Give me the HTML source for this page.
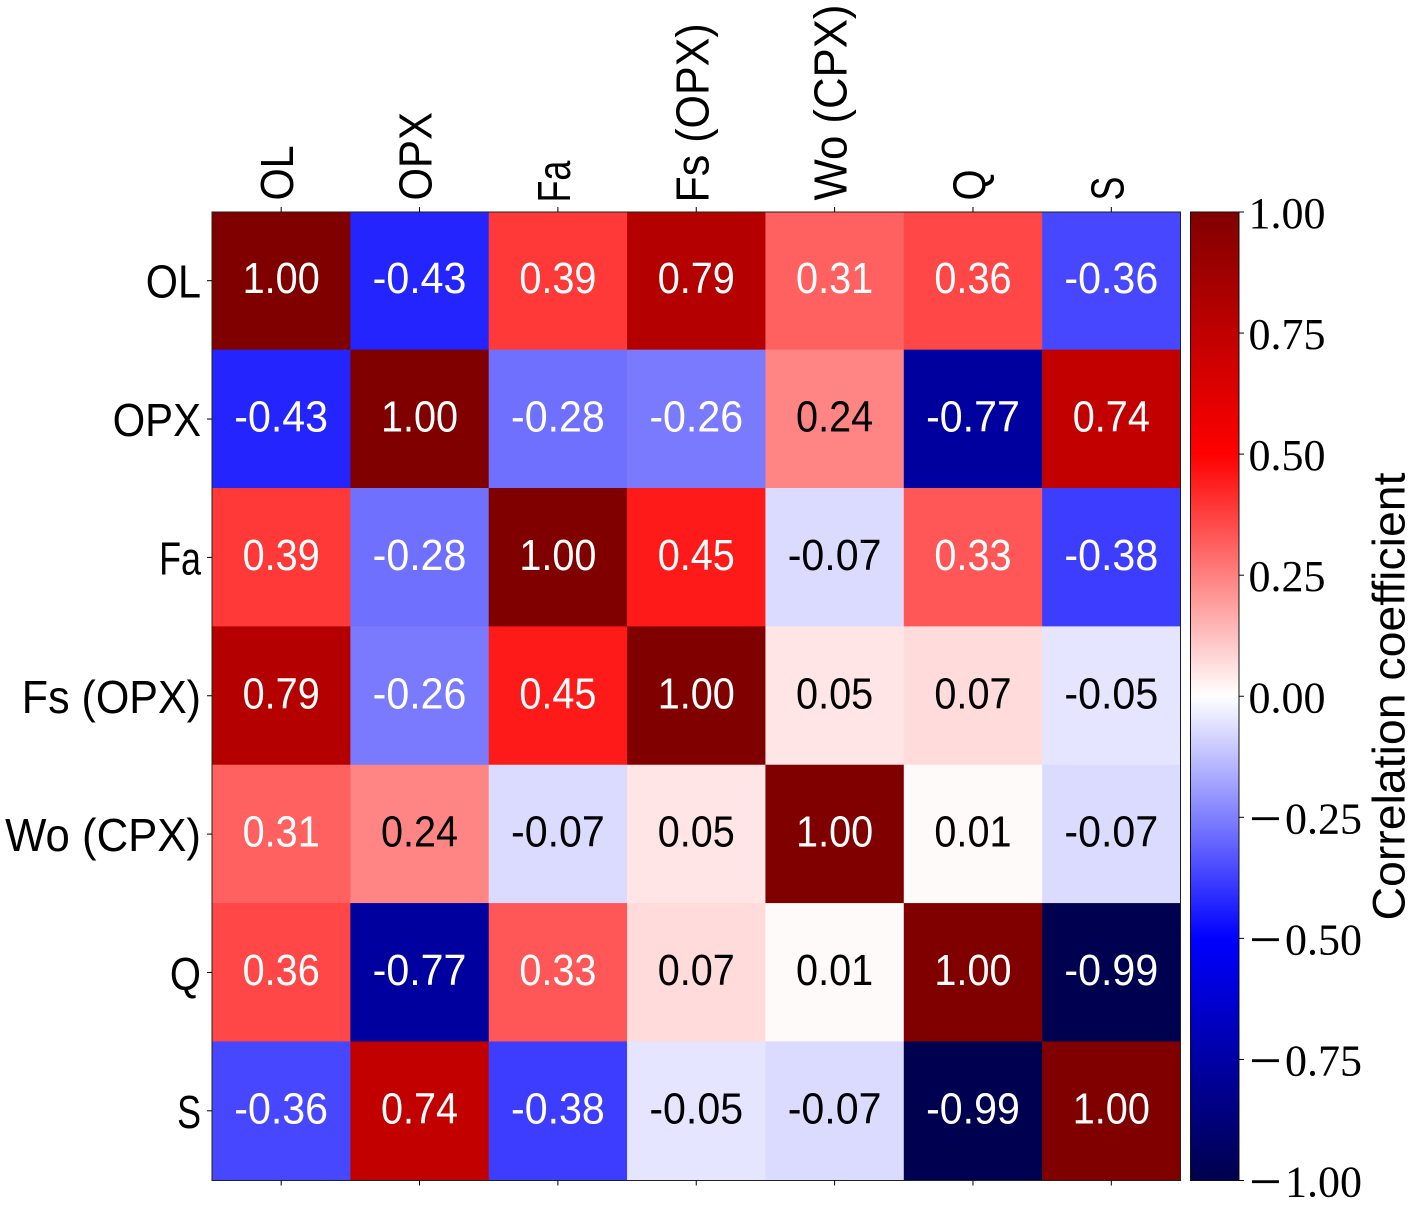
<!DOCTYPE html>
<html lang="en">
<head>
<meta charset="utf-8">
<title>Correlation matrix</title>
<style>
html,body{margin:0;padding:0;background:#fff;}
svg{display:block;}
text{font-family:"Liberation Sans",sans-serif;fill:#000;}
.serif{font-family:"Liberation Serif",serif;}
</style>
</head>
<body>
<svg id="chart" xmlns="http://www.w3.org/2000/svg" width="1420" height="1211" viewBox="0 0 1420 1211">
  <defs>
    <linearGradient id="cbar-gradient" x1="0" y1="1" x2="0" y2="0"></linearGradient>
  </defs>
  <rect width="1420" height="1211" fill="#fff"></rect>
  <g id="cells"></g>
  <g id="cell-values"></g>
  <rect id="frame" fill="none" stroke="#222" stroke-width="1"></rect>
  <g id="ticks"></g>
  <g id="colorbar"></g>
  <text id="cbar-title" text-anchor="middle" font-size="45" textLength="448" lengthAdjust="spacingAndGlyphs">Correlation coefficient</text>
</svg>
<script>
const categories = ["OL", "OPX", "Fa", "Fs (OPX)", "Wo (CPX)", "Q", "S"];
const row0 = [1.00, -0.43, 0.39, 0.79, 0.31, 0.36, -0.36];
const row1 = [-0.43, 1.00, -0.28, -0.26, 0.24, -0.77, 0.74];
const row2 = [0.39, -0.28, 1.00, 0.45, -0.07, 0.33, -0.38];
const row3 = [0.79, -0.26, 0.45, 1.00, 0.05, 0.07, -0.05];
const row4 = [0.31, 0.24, -0.07, 0.05, 1.00, 0.01, -0.07];
const row5 = [0.36, -0.77, 0.33, 0.07, 0.01, 1.00, -0.99];
const row6 = [-0.36, 0.74, -0.38, -0.05, -0.07, -0.99, 1.00];
const matrix = [row0, row1, row2, row3, row4, row5, row6];
const colorbarTicks = [-1.00, -0.75, -0.50, -0.25, 0.00, 0.25, 0.50, 0.75, 1.00];

const SVGNS = "http://www.w3.org/2000/svg";
const plotLeft = 212, plotTop = 212, plotSize = 968.5;
const cellSize = plotSize / categories.length;
const barLeft = 1190.5, barRight = 1239;
/* glyph-width correction so Liberation matches the narrower sans of the original */
const labelSqueeze = { "OL": 0.90, "OPX": 0.91, "Fa": 0.78, "Fs (OPX)": 0.935, "Wo (CPX)": 0.95, "Q": 0.87, "S": 0.78 };

function xPos(i) { return plotLeft + i * cellSize; }
function yPos(i) { return plotTop + i * cellSize; }
function barY(v) { return plotTop + (1 - v) / 2 * plotSize; }

/* matplotlib "seismic" colormap */
function seismic(v) {
  const t = Math.max(0, Math.min(1, (v + 1) / 2));
  const anchors = [[0, 0, 0, 76.5], [0.25, 0, 0, 255], [0.5, 255, 255, 255], [0.75, 255, 0, 0], [1, 127.5, 0, 0]];
  for (let k = 1; k < anchors.length; k++) {
    if (t <= anchors[k][0]) {
      const a = anchors[k - 1], b = anchors[k];
      const f = (t - a[0]) / (b[0] - a[0]);
      return "rgb(" + Math.round(a[1] + f * (b[1] - a[1])) + "," + Math.round(a[2] + f * (b[2] - a[2])) + "," + Math.round(a[3] + f * (b[3] - a[3])) + ")";
    }
  }
  return "rgb(128,0,0)";
}

function make(tag, parent) {
  const el = document.createElementNS(SVGNS, tag);
  parent.appendChild(el);
  return el;
}
function setAll(el, attrs) {
  for (const k in attrs) el.setAttribute(k, attrs[k]);
}
function squeeze(el, factor) {
  el.setAttribute("textLength", (el.getComputedTextLength() * factor).toFixed(1));
  el.setAttribute("lengthAdjust", "spacingAndGlyphs");
}

const cellsG = document.getElementById("cells");
const valuesG = document.getElementById("cell-values");
matrix.forEach(function (row, r) {
  row.forEach(function (v, c) {
    const cell = make("rect", cellsG);
    setAll(cell, { x: xPos(c), y: yPos(r) - (r > 0 ? 0.7 : 0), width: cellSize + 0.3, height: cellSize + (r > 0 ? 0.8 : 0.1), fill: seismic(v) });
    
    
    const t = make("text", valuesG);
    setAll(t, { x: xPos(c) + cellSize / 2, y: yPos(r) + cellSize / 2 + 12, "text-anchor": "middle", "font-size": 44 });
    t.style.fill = Math.abs(v) > 0.25 ? "#fff" : "#000";
    t.textContent = v.toFixed(2);
    
    
    squeeze(t, v < 0 ? 0.935 : 0.9);
  });
});
setAll(document.getElementById("frame"), { x: plotLeft, y: plotTop, width: plotSize, height: plotSize });

const ticksG = document.getElementById("ticks");
categories.forEach(function (name, i) {
  const cx = xPos(i) + cellSize / 2, cy = yPos(i) + cellSize / 2 - 0.5;

  const topTick = make("line", ticksG);
  setAll(topTick, { x1: cx, x2: cx, y1: plotTop, y2: plotTop - 5, stroke: "#000", "stroke-width": 1 });
  
  

  const bottomTick = make("line", ticksG);
  setAll(bottomTick, { x1: cx, x2: cx, y1: plotTop + plotSize, y2: plotTop + plotSize + 5, stroke: "#000", "stroke-width": 1 });
  
  

  const leftTick = make("line", ticksG);
  setAll(leftTick, { x1: plotLeft, x2: plotLeft - 5, y1: cy, y2: cy, stroke: "#000", "stroke-width": 1 });
  
  

  const topLabel = make("text", ticksG);
  const startsWithF = name.charAt(0) === "F";
  setAll(topLabel, { x: 0, y: 0, transform: "translate(" + (cx + 12) + "," + (startsWithF ? 202.5 : 200.5) + ") rotate(-90)", "font-size": 46 });
  topLabel.textContent = name;
  
  
  squeeze(topLabel, labelSqueeze[name]);

  const leftLabel = make("text", ticksG);
  setAll(leftLabel, { x: 201, y: cy + 17, "text-anchor": "end", "font-size": 46 });
  leftLabel.textContent = name;
  
  
  squeeze(leftLabel, labelSqueeze[name]);
});

const barG = document.getElementById("colorbar");
const grad = document.getElementById("cbar-gradient");
[-1, -0.5, 0, 0.5, 1].forEach(function (v) {
  const stop = make("stop", grad);
  setAll(stop, { offset: ((v + 1) / 2 * 100) + "%", "stop-color": seismic(v) });
});
const barRect = make("rect", barG);
setAll(barRect, { x: barLeft, y: barY(1), width: barRight - barLeft, height: barY(-1) - barY(1), fill: "url(#cbar-gradient)", stroke: "#111", "stroke-width": 1 });



colorbarTicks.forEach(function (v) {
  const y = barY(v);
  const tick = make("line", barG);
  setAll(tick, { x1: barRight, x2: barRight + 5, y1: y, y2: y, stroke: "#000", "stroke-width": 1 });
  
  

  const label = make("text", barG);
  label.setAttribute("class", "serif");
  setAll(label, { x: v < 0 ? 1249 : 1248.5, y: y + 16, "font-size": 44 });
  if (v < 0) {
    const minus = make("tspan", label);
    minus.setAttribute("font-size", "58");
    minus.setAttribute("dy", "4.5");
    minus.textContent = "\u2212";
    const digits = make("tspan", label);
    digits.setAttribute("x", "1285");
    digits.setAttribute("dy", "-4.5");
    digits.textContent = Math.abs(v).toFixed(2);
  } else {
    label.textContent = v.toFixed(2);
  }
  
  
});

document.getElementById("cbar-title").setAttribute("transform", "translate(1404.5,696.5) rotate(-90)");
</script>
</body>
</html>
